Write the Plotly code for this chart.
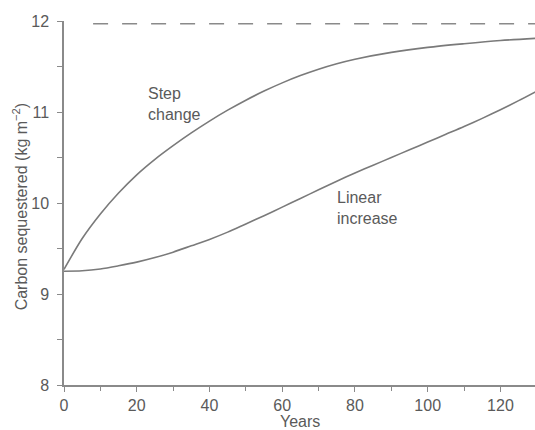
import plotly.graph_objects as go

years = [0, 5, 10, 15, 20, 25, 30, 35, 40, 45, 50, 55, 60, 65, 70, 75, 80, 90, 100, 110, 120, 130]
step_change = [9.27, 9.61, 9.88, 10.11, 10.31, 10.48, 10.63, 10.77, 10.90, 11.02, 11.13,
               11.23, 11.32, 11.40, 11.47, 11.53, 11.58, 11.655, 11.71, 11.75, 11.785, 11.81]

lin_years = [0, 5, 10, 15, 20, 25, 30, 35, 40, 45, 50, 55, 60, 65, 70, 75, 80, 85, 90,
             95, 100, 105, 110, 115, 120, 125, 130]
linear_increase = [9.25, 9.255, 9.275, 9.31, 9.35, 9.40, 9.46, 9.53, 9.60, 9.68, 9.77,
                   9.86, 9.955, 10.05, 10.145, 10.24, 10.33, 10.415, 10.50, 10.585, 10.67,
                   10.755, 10.84, 10.93, 11.025, 11.125, 11.23]

asym_years = [8, 130]
asymptote = [11.97, 11.97]

x_ticks = [0, 20, 40, 60, 80, 100, 120]
y_ticks = [8, 9, 10, 11, 12]

line_col = "#7a7a7a"
axis_col = "#8a8a8a"
text_col = "#5a5a5a"
font_fam = "Liberation Sans, Arial, sans-serif"

fig = go.Figure()
fig.add_trace(go.Scatter(x=years, y=step_change, mode="lines",
                         line=dict(color=line_col, width=1.6, shape="spline", smoothing=0.8),
                         showlegend=False, hoverinfo="skip"))
fig.add_trace(go.Scatter(x=lin_years, y=linear_increase, mode="lines",
                         line=dict(color=line_col, width=1.6, shape="spline", smoothing=0.8),
                         showlegend=False, hoverinfo="skip"))
fig.add_trace(go.Scatter(x=asym_years, y=asymptote, mode="lines",
                         line=dict(color="#8a8a8a", width=1.6, dash="15px,14px"),
                         showlegend=False, hoverinfo="skip"))

fig.add_annotation(x=22.5, y=11.09, text="Step<br>change", showarrow=False,
                   xanchor="left", yanchor="middle", align="left",
                   font=dict(family=font_fam, size=16, color=text_col))
fig.add_annotation(x=74.5, y=9.95, text="Linear<br>increase", showarrow=False,
                   xanchor="left", yanchor="middle", align="left",
                   font=dict(family=font_fam, size=16, color=text_col))

# axis titles placed as paper annotations
fig.add_annotation(xref="paper", yref="paper", x=0.5, y=-0.10, text="Years",
                   showarrow=False, xanchor="center", yanchor="middle",
                   font=dict(family=font_fam, size=16, color=text_col))
fig.add_annotation(xref="paper", yref="paper", x=-0.094, y=0.49,
                   text="Carbon sequestered (kg m<sup>−2</sup>)", textangle=-90,
                   showarrow=False, xanchor="center", yanchor="middle",
                   font=dict(family=font_fam, size=16, color=text_col))

fig.update_layout(
    width=535, height=430,
    margin=dict(l=64, r=0, t=21, b=45),
    plot_bgcolor="white", paper_bgcolor="white",
    font=dict(family=font_fam, color=text_col, size=16),
    xaxis=dict(range=[0, 129.5], tickvals=x_ticks, ticktext=[str(v) for v in x_ticks],
               showgrid=False, zeroline=False, showline=True, linecolor=axis_col,
               linewidth=1.5, ticks="outside", ticklen=5, tickcolor=axis_col,
               tickwidth=1.3, automargin=False,
               minor=dict(dtick=10, tick0=0, ticks="outside", ticklen=4,
                          tickcolor=axis_col, tickwidth=1.3),
               tickfont=dict(size=16, color=text_col)),
    yaxis=dict(range=[8, 12], tickvals=y_ticks, ticktext=[str(v) for v in y_ticks],
               showgrid=False, zeroline=False, showline=True, linecolor=axis_col,
               linewidth=1.5, ticks="outside", ticklen=5, tickcolor=axis_col,
               tickwidth=1.3, automargin=False, ticklabelstandoff=5,
               minor=dict(dtick=0.5, tick0=8, ticks="outside", ticklen=5,
                          tickcolor=axis_col, tickwidth=1.3),
               tickfont=dict(size=16, color=text_col)),
)

# remove the page's default body margin so the 535x430 figure fills the window
fig.write_html("out.html",
               config={"displayModeBar": False},
               post_script="document.body.style.margin='0';"
                           "document.body.style.overflow='hidden';")
